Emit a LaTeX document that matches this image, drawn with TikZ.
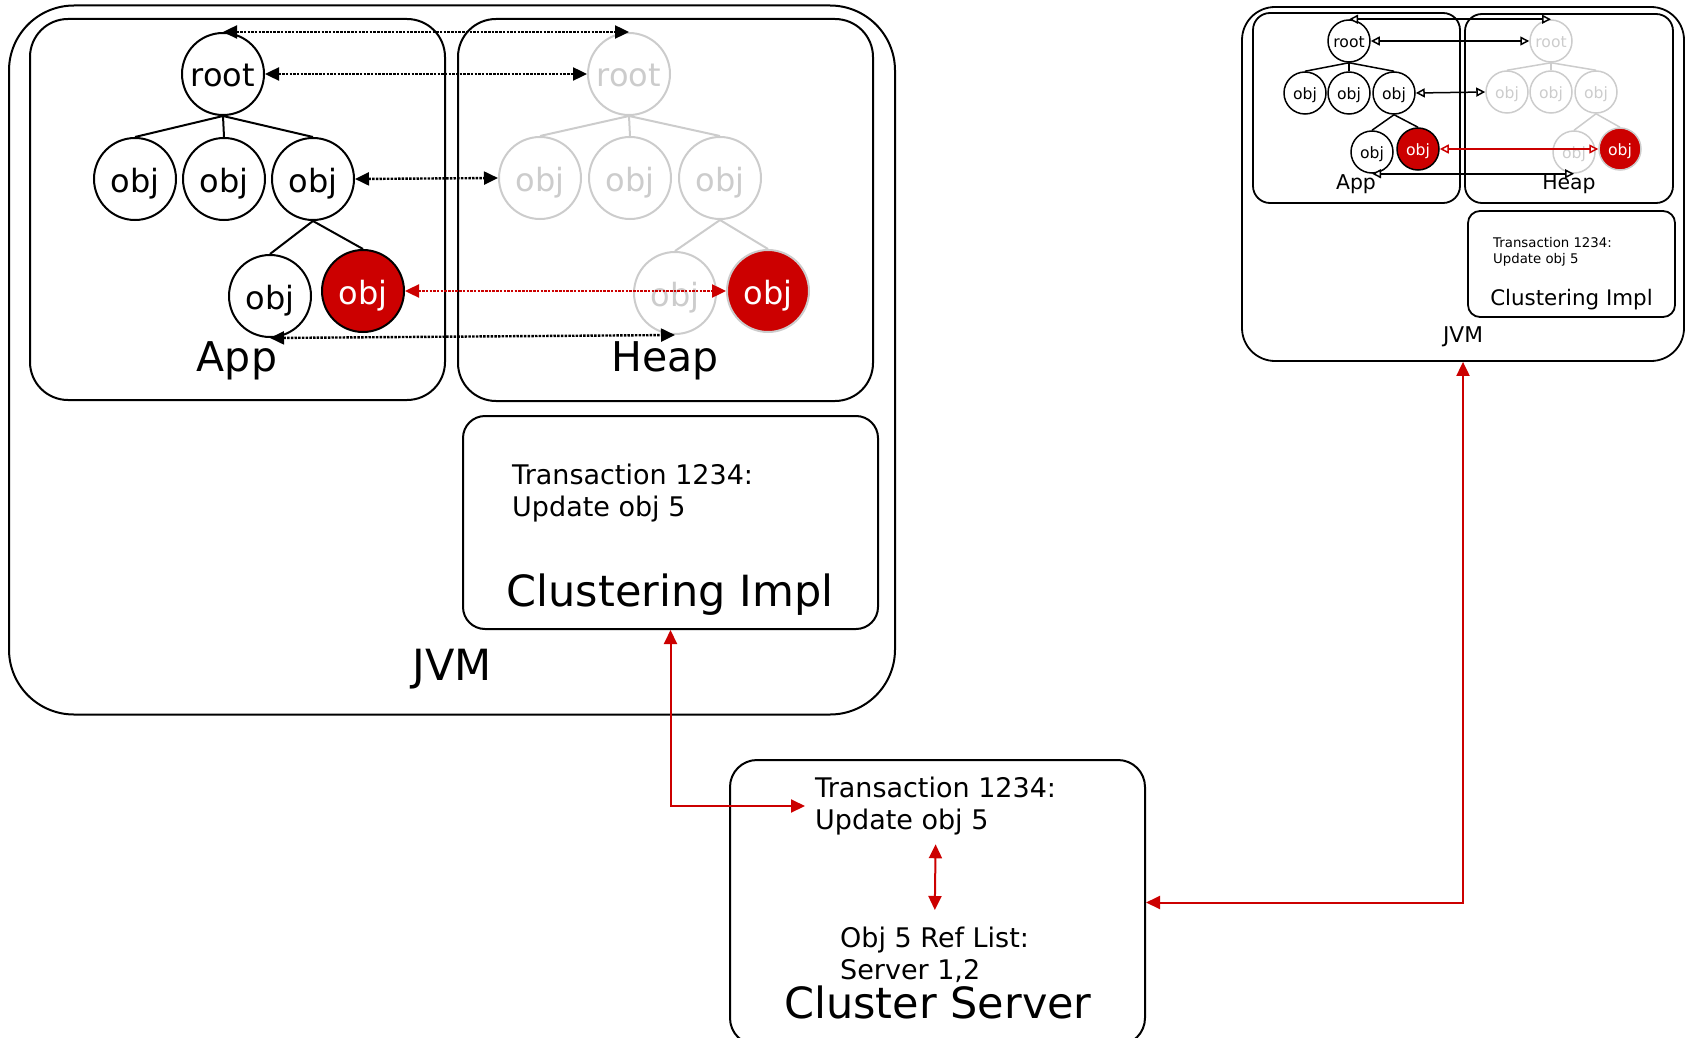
\documentclass[tikz,border=0pt]{standalone}
\usepackage{fontspec}
\setmainfont{DejaVu Sans}
\usetikzlibrary{arrows.meta}
\definecolor{jred}{HTML}{CC0000}
\definecolor{jgray}{HTML}{CCCCCC}
\newcommand{\fsz}[2]{\fontsize{#1}{#2}\selectfont}
\begin{document}
\begin{tikzpicture}[x=1pt,y=-1pt,
  box/.style={draw, line width=2pt, rounded corners=#1, inner sep=0pt},
  sbox/.style={draw, line width=1.8pt, rounded corners=#1, inner sep=0pt},
  bc/.style={circle, draw, line width=2pt, minimum size=82pt, inner sep=0pt, text height=27pt, text depth=1pt, font=\fsz{32}{38}},
  bcg/.style={bc, draw=jgray, text=jgray},
  bcr/.style={bc, fill=jred, text=white},
  bcrg/.style={bc, draw=jgray, fill=jred, text=white},
  sc/.style={circle, draw, line width=1.5pt, minimum size=42pt, inner sep=0pt, text height=13.5pt, text depth=0.5pt, font=\fsz{15.6}{18}},
  scg/.style={sc, draw=jgray, text=jgray},
  scr/.style={sc, fill=jred, text=white},
  scrg/.style={sc, draw=jgray, fill=jred, text=white},
  edge/.style={line width=2pt},
  edgeg/.style={line width=2pt, jgray},
  sedge/.style={line width=1.5pt},
  sedgeg/.style={line width=1.5pt, jgray},
  darr/.style={line width=2.4pt, dash pattern=on 2.5pt off 1.2pt, {Triangle[length=14pt,width=13pt]}-{Triangle[length=14pt,width=13pt]}},
  sarr/.style={line width=1.5pt, {Triangle[open,fill=white,length=9pt,width=9pt]}-{Triangle[open,fill=white,length=9pt,width=9pt]}},
  rarr/.style={jred, line width=2pt, {Triangle[length=14pt,width=13pt]}-{Triangle[length=14pt,width=13pt]}},
  lbl/.style={inner sep=0pt, font=\fsz{#1}{#1}},
  txt/.style={inner sep=0pt, align=left, anchor=west}
]
\useasboundingbox (0,0) rectangle (1689,1038);
\clip (0,0) rectangle (1689,1038);
% ---- big boxes
\node[box=65pt, minimum width=886pt, minimum height=709pt] (jvm) at (452,360) {};
\node[box=38pt, minimum width=415pt, minimum height=381pt] (app) at (237.5,209.5) {};
\node[box=38pt, minimum width=415pt, minimum height=382pt] (heap) at (665.5,210) {};
\node[box=22pt, minimum width=415pt, minimum height=213pt] (ci) at (670.5,522.5) {};
\node[box=27pt, minimum width=415pt, minimum height=285pt] (cs) at (937.5,902.5) {};
% ---- small boxes
\node[sbox=33pt, minimum width=442pt, minimum height=354pt] (sjvm) at (1463,184) {};
\node[sbox=17pt, minimum width=207pt, minimum height=190pt] (sapp) at (1356.5,108) {};
\node[sbox=17pt, minimum width=208pt, minimum height=189pt] (sheap) at (1569,108.5) {};
\node[sbox=12pt, minimum width=207pt, minimum height=106pt] (sci) at (1571.5,264) {};
% ---- big app tree
\node[bc] (ar) at (223,74) {root};
\node[bc] (ao1) at (135,179) {obj};
\node[bc] (ao2) at (224,179) {obj};
\node[bc] (ao3) at (313,179) {obj};
\node[bc] (ao4) at (270,296) {obj};
\node[bcr] (ao5) at (363,291) {obj};
\draw[edge] (ar.south) -- (ao1.north);
\draw[edge] (ar.south) -- (ao2.north);
\draw[edge] (ar.south) -- (ao3.north);
\draw[edge] (ao3.south) -- (ao4.north);
\draw[edge] (ao3.south) -- (ao5.north);
% ---- big heap tree
\node[bcg] (hr) at (629,74) {root};
\node[bcg] (ho1) at (540,178) {obj};
\node[bcg] (ho2) at (630,178) {obj};
\node[bcg] (ho3) at (720,178) {obj};
\node[bcg] (ho4) at (675,293) {obj};
\node[bcrg] (ho5) at (768,291) {obj};
\draw[edgeg] (hr.south) -- (ho1.north);
\draw[edgeg] (hr.south) -- (ho2.north);
\draw[edgeg] (hr.south) -- (ho3.north);
\draw[edgeg] (ho3.south) -- (ho4.north);
\draw[edgeg] (ho3.south) -- (ho5.north);
% ---- small app tree
\node[sc] (sar) at (1349,41) {root};
\node[sc] (sao1) at (1305,93) {obj};
\node[sc] (sao2) at (1349,93) {obj};
\node[sc] (sao3) at (1394,93) {obj};
\node[sc] (sao4) at (1372,152) {obj};
\node[scr] (sao5) at (1418,149) {obj};
\draw[sedge] (sar.south) -- (sao1.north);
\draw[sedge] (sar.south) -- (sao2.north);
\draw[sedge] (sar.south) -- (sao3.north);
\draw[sedge] (sao3.south) -- (sao4.north);
\draw[sedge] (sao3.south) -- (sao5.north);
% ---- small heap tree
\node[scg] (shr) at (1551,41) {root};
\node[scg] (sho1) at (1507,92) {obj};
\node[scg] (sho2) at (1551,92) {obj};
\node[scg] (sho3) at (1596,92) {obj};
\node[scg] (sho4) at (1574,152) {obj};
\node[scrg] (sho5) at (1620,149) {obj};
\draw[sedgeg] (shr.south) -- (sho1.north);
\draw[sedgeg] (shr.south) -- (sho2.north);
\draw[sedgeg] (shr.south) -- (sho3.north);
\draw[sedgeg] (sho3.south) -- (sho4.north);
\draw[sedgeg] (sho3.south) -- (sho5.north);
% ---- labels big
\node[lbl=41] (lapp) at (237,361) {App};
\node[lbl=41] (lheap) at (665,361) {Heap};
\node[lbl=43] (ljvm) at (452,669) {JVM};
\node[lbl=43] (lci) at (670,595) {Clustering Impl};
\node[txt, font=\fsz{27}{32}] (citx) at (512,493) {Transaction 1234:\\Update obj 5};
\node[txt, font=\fsz{27}{32}, inner xsep=10pt, inner ysep=6pt] (cstx) at (805,806) {Transaction 1234:\\Update obj 5};
\node[txt, font=\fsz{27}{32}] (csref) at (840,955) {Obj 5 Ref List:\\Server 1,2};
\node[lbl=43] (lcs) at (938,1002) {Cluster Server};
% ---- labels small
\node[lbl=20.4] (slapp) at (1356,184) {App};
\node[lbl=20.4] (slheap) at (1569,184) {Heap};
\node[lbl=21.7] (sljvm) at (1463,337) {JVM};
\node[lbl=21.4] (slci) at (1571.5,300) {Clustering Impl};
\node[txt, font=\fsz{13.3}{16}] (scitx) at (1493,251.5) {Transaction 1234:\\Update obj 5};
% ---- big arrows
\draw[darr] (ar.north) -- (hr.north);
\draw[darr] (ar.east) -- (hr.west);
\draw[darr] (ao3.east) -- (ho1.west);
\draw[darr, jred] (ao5.east) -- (ho5.west);
\draw[darr] (ao4.south) -- (ho4.south);
% ---- small arrows
\draw[sarr] (sar.north) -- (shr.north);
\draw[sarr] (sar.east) -- (shr.west);
\draw[sarr] (sao3.east) -- (sho1.west);
\draw[sarr, jred] (sao5.east) -- (sho5.west);
\draw[sarr] (sao4.south) -- (sho4.south);
% ---- red connectors
\draw[rarr] (ci.south) |- (cstx.west);
\draw[rarr] (sjvm.south) |- (cs.east);
\draw[rarr, shorten <=3pt, shorten >=17pt] (cstx.south) -- (csref.north);
\end{tikzpicture}
\end{document}
